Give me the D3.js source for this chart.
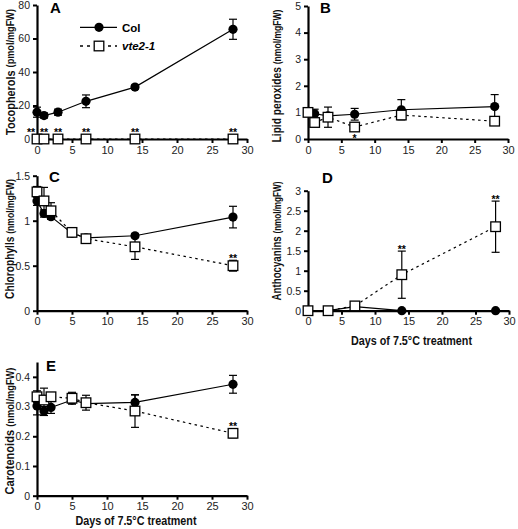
<!DOCTYPE html>
<html><head><meta charset="utf-8">
<script src="https://cdn.jsdelivr.net/npm/d3@7"></script>
<style>
html,body{margin:0;padding:0;background:#fff;}
svg{display:block;font-family:"Liberation Sans",Arial,sans-serif;}
</style></head>
<body>
<svg id="c" width="518" height="529"></svg>
<script>
// ---------------- DATA ----------------
const xTicks = [0,5,10,15,20,25,30];
const seriesNames = ["Col","vte2-1"];

// A: Tocopherols (pmol/mgFW)
const daysA = [0,1,3,7,14,28];
const tocoCol = [16,14,16,22.5,31,65.5];
const tocoColErr = [3,1.5,1.8,3.8,1.2,6];
const tocoVte = [0,0,0,0,0,0];
const tocoVteErr = [0,0,0,0,0,0];
const tocoStars = ["**","**","**","**","**","**"];
const ticksA = [0,20,40,60,80];

// B: Lipid peroxides (nmol/mgFW)
const daysB = [0,1,3,7,14,28];
const lipidCol = [1.0,0.95,0.87,0.93,1.1,1.22];
const lipidColErr = [0.05,0.17,0.1,0.22,0.38,0.45];
const lipidVte = [1.0,0.62,0.82,0.45,0.9,0.67];
const lipidVteErr = [0.05,0.1,0.38,0.15,0.15,0.1];
const lipidStars = ["","","","*","",""];
const ticksB = [0,1,2,3,4,5];

// C: Chlorophylls (nmol/mgFW)
const daysC = [0,1,2,5,7,14,28];
const chlCol = [1.22,1.08,1.045,0.86,0.81,0.833,1.04];
const chlColErr = [0.05,0.04,0.03,0.03,0.02,0.02,0.12];
const chlVte = [1.32,1.22,1.11,0.87,0.80,0.71,0.50];
const chlVteErr = [0.06,0.15,0.09,0.03,0.02,0.14,0.06];
const chlStars = ["","","","","","","**"];
const ticksC = [0,0.5,1,1.5];

// D: Anthocyanins (nmol/mgFW)
const daysD = [0,3,7,14,28];
const anthCol = [0,0,0.1,0,0];
const anthColErr = [0,0,0,0,0];
const anthVte = [0,0,0.12,0.9,2.1];
const anthVteErr = [0,0,0.03,0.59,0.64];
const anthStars = ["","","","**","**"];
const ticksD = [0,0.5,1,1.5,2,2.5,3];

// E: Carotenoids (nmol/mgFW)
const daysE = [0,1,2,5,7,14,28];
const carCol = [0.302,0.285,0.297,0.322,0.31,0.314,0.375];
const carColErr = [0.03,0.015,0.02,0.01,0.01,0.025,0.03];
const carVte = [0.333,0.322,0.333,0.328,0.313,0.285,0.21];
const carVteErr = [0.02,0.04,0.01,0.02,0.025,0.055,0.015];
const carStars = ["","","","","","","**"];
const ticksE = [0,0.1,0.2,0.3,0.4];

const xTitle = "Days of 7.5°C treatment";

// ---------------- DRAW ----------------
const svg = d3.select("#c");

const panels = [
  {letter:"A", days:daysA, col:tocoCol, colErr:tocoColErr, vte:tocoVte, vteErr:tocoVteErr, stars:tocoStars, starShift:{0:-6},
   yDomain:[0,80], yTicks:ticksA, xr:[37,247], yr:[139,5], label:"Tocopherols", unit:"(pmol/mgFW)",
   lx:10, lcy:72, llen:126, letterPos:[50,13], legend:true},
  {letter:"B", days:daysB, col:lipidCol, colErr:lipidColErr, vte:lipidVte, vteErr:lipidVteErr, stars:lipidStars, starsBelow:true,
   yDomain:[0,5], yTicks:ticksB, xr:[308,508], yr:[139,6], label:"Lipid peroxides", unit:"(nmol/mgFW)",
   lx:277, lcy:76, llen:133, letterPos:[320,13]},
  {letter:"C", days:daysC, col:chlCol, colErr:chlColErr, vte:chlVte, vteErr:chlVteErr, stars:chlStars,
   yDomain:[0,1.5], yTicks:ticksC, xr:[37,247], yr:[310.7,175.7], label:"Chlorophylls", unit:"(nmol/mgFW)",
   lx:10, lcy:239, llen:120, letterPos:[49,182]},
  {letter:"D", days:daysD, col:anthCol, colErr:anthColErr, vte:anthVte, vteErr:anthVteErr, stars:anthStars,
   yDomain:[0,3], yTicks:ticksD, xr:[308,509], yr:[310.7,190.7], label:"Anthocyanins", unit:"(nmol/mgFW)",
   lx:277, lcy:241, llen:119, letterPos:[322,183], xLabel:true, xtx:411.5, xty:344.5},
  {letter:"E", days:daysE, col:carCol, colErr:carColErr, vte:carVte, vteErr:carVteErr, stars:carStars,
   yDomain:[0,0.45], yTicks:ticksE, xr:[37,247], yr:[495.7,362], label:"Carotenoids", unit:"(nmol/mgFW)",
   lx:10, lcy:431, llen:127, letterPos:[46,371], xLabel:true, xtx:136, xty:525}
];

const fmt = d => d3.format("")(+d.toFixed(2));

panels.forEach(p => {
  const g = svg.append("g");
  const x = d3.scaleLinear().domain([0,30]).range(p.xr);
  const y = d3.scaleLinear().domain(p.yDomain).range(p.yr);

  // axes
  const xa = g.append("g").attr("transform",`translate(0,${p.yr[0]})`)
    .call(d3.axisBottom(x).tickValues(xTicks).tickSize(4).tickSizeOuter(0).tickPadding(3).tickFormat(fmt));
  const ya = g.append("g").attr("transform",`translate(${p.xr[0]},0)`)
    .call(d3.axisLeft(y).tickValues(p.yTicks).tickSize(4).tickSizeOuter(0).tickPadding(3).tickFormat(fmt));
  [xa,ya].forEach(a=>{
    a.select(".domain").attr("stroke","#000").attr("stroke-width",2.2);
    a.selectAll(".tick line").attr("stroke","#000").attr("stroke-width",2);
    a.selectAll(".tick text").attr("fill","#222").style("font-family","'Liberation Sans',Arial,sans-serif");
  });
  xa.selectAll(".tick text").style("font-size","11px");
  ya.selectAll(".tick text").style("font-size","10.5px");

  // y label, compressed along its length to the reference length
  const yl = g.append("text")
    .attr("text-anchor","middle").attr("dominant-baseline","central")
    .style("font-weight","bold").attr("fill","#111");
  yl.append("tspan").style("font-size","12.5px").text(p.label+" ");
  yl.append("tspan").style("font-size","10.5px").text(p.unit);
  const len = yl.node().getComputedTextLength();
  const k = Math.min(1, p.llen/len);
  yl.attr("transform",`translate(${p.lx},${p.lcy}) rotate(-90) scale(${k},1)`);

  // panel letter
  g.append("text").attr("x",p.letterPos[0]).attr("y",p.letterPos[1])
    .style("font-size","15px").style("font-weight","bold").text(p.letter);

  // x title
  if (p.xLabel) {
    const xt = g.append("text").attr("text-anchor","middle").style("font-size","12.2px")
      .style("font-weight","bold").attr("fill","#111").text(xTitle);
    const xl = xt.node().getComputedTextLength();
    const kx = Math.min(1, 121/xl);
    xt.attr("transform",`translate(${p.xtx},${p.xty}) scale(${kx},1)`);
  }

  const line = (vals) => d3.line().x((d,i)=>x(p.days[i])).y(d=>y(d))(vals);

  function errBars(vals, errs) {
    vals.forEach((v,i)=>{
      const e = errs[i]; if (!e) return;
      const cx = x(p.days[i]);
      g.append("line").attr("x1",cx).attr("x2",cx).attr("y1",y(v-e < 0 ? 0 : v-e)).attr("y2",y(v+e))
        .attr("stroke","#000").attr("stroke-width",1.2);
      [v+e, v-e].forEach(t=>{ if (t<0) return;
        g.append("line").attr("x1",cx-4).attr("x2",cx+4).attr("y1",y(t)).attr("y2",y(t))
          .attr("stroke","#000").attr("stroke-width",1.2);
      });
    });
  }

  // Col series
  errBars(p.col, p.colErr);
  g.append("path").attr("d",line(p.col)).attr("fill","none").attr("stroke","#000").attr("stroke-width",1.2);
  // vte2-1 series
  errBars(p.vte, p.vteErr);
  g.append("path").attr("d",line(p.vte)).attr("fill","none").attr("stroke","#000").attr("stroke-width",1.2)
    .attr("stroke-dasharray","2.5,3.5");

  g.selectAll("circle.col").data(p.col).enter().append("circle")
    .attr("cx",(d,i)=>x(p.days[i])).attr("cy",d=>y(d)).attr("r",4.6).attr("fill","#000");
  g.selectAll("rect.vte").data(p.vte).enter().append("rect")
    .attr("x",(d,i)=>x(p.days[i])-4.8).attr("y",d=>y(d)-4.8).attr("width",9.6).attr("height",9.6)
    .attr("fill","#fff").attr("stroke","#000").attr("stroke-width",1.3);

  // significance stars
  p.stars.forEach((s,i)=>{
    if (!s) return;
    const v = p.vte[i], e = p.vteErr[i];
    const cx = x(p.days[i]) + ((p.starShift && p.starShift[i]) || 0);
    let yy;
    if (p.starsBelow) { yy = Math.max(y(v-e), y(v)+5) + 10; }
    else { yy = Math.min(y(v+e), y(v)-5) + 1.5; }
    g.append("text").attr("x",cx).attr("y",yy).attr("text-anchor","middle")
      .style("font-size","10.5px").style("font-weight","bold").attr("fill","#000").text(s);
  });

  // legend
  if (p.legend) {
    const lg = g.append("g");
    lg.append("line").attr("x1",80).attr("x2",117).attr("y1",27.3).attr("y2",27.3).attr("stroke","#000").attr("stroke-width",1.3);
    lg.append("circle").attr("cx",99).attr("cy",27.3).attr("r",4.6).attr("fill","#000");
    lg.append("text").attr("x",122).attr("y",31.5).style("font-size","11.5px").style("font-weight","bold").text(seriesNames[0]);
    lg.append("line").attr("x1",80).attr("x2",117).attr("y1",46).attr("y2",46).attr("stroke","#000").attr("stroke-width",1.3).attr("stroke-dasharray","3,4");
    lg.append("rect").attr("x",99-4.8).attr("y",46-4.8).attr("width",9.6).attr("height",9.6).attr("fill","#fff").attr("stroke","#000").attr("stroke-width",1.3);
    lg.append("text").attr("x",122).attr("y",50).style("font-size","11.5px").style("font-weight","bold").style("font-style","italic").text(seriesNames[1]);
  }
});
</script>
</body></html>
